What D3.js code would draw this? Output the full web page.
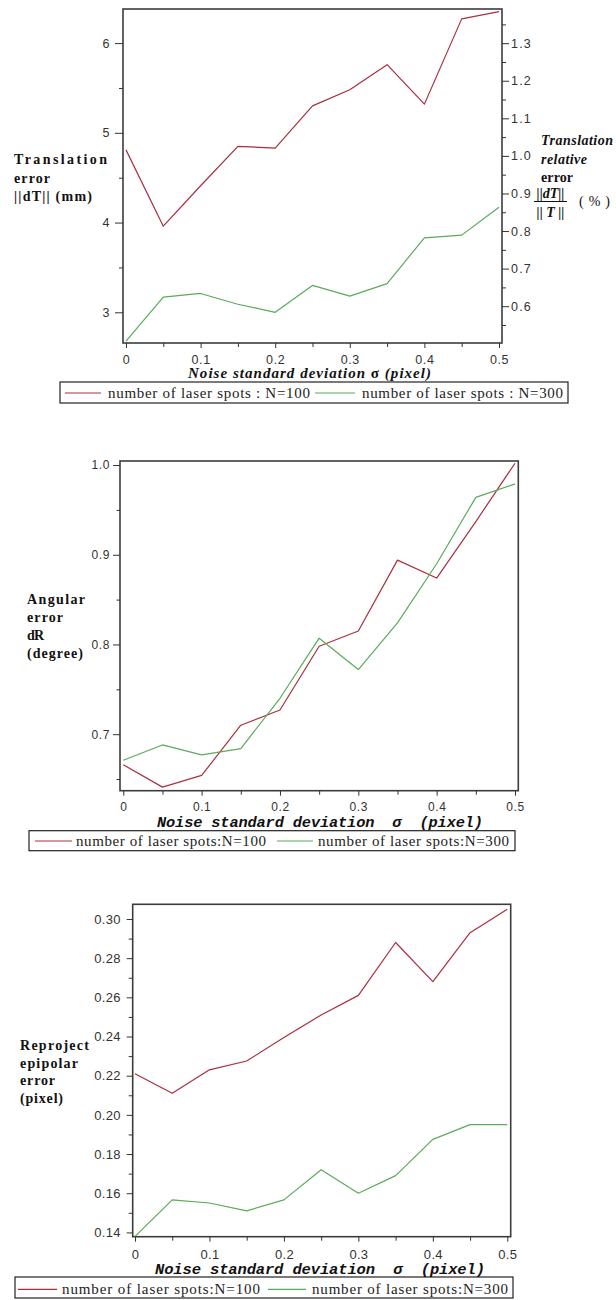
<!DOCTYPE html>
<html>
<head>
<meta charset="utf-8">
<script src="https://cdn.jsdelivr.net/npm/d3@7"></script>
<style>
  body { margin: 0; background: #fff; }
  #chart { width: 616px; height: 1300px; }
</style>
</head>
<body>
<div id="chart"></div>
<script>
// noise levels on the x axis
const sigmaValues = [0, 0.05, 0.1, 0.15, 0.2, 0.25, 0.3, 0.35, 0.4, 0.45, 0.5];
const sigmaTicks = [0, 0.1, 0.2, 0.3, 0.4, 0.5];
const sigmaMinorTicks = [0.05, 0.15, 0.25, 0.35, 0.45];

// translation error ||dT|| (mm)
const translationN100 = [4.81, 3.96, 4.41, 4.85, 4.83, 5.30, 5.48, 5.76, 5.32, 6.27, 6.35];
const translationN300 = [2.68, 3.17, 3.21, 3.09, 3.00, 3.30, 3.18, 3.32, 3.83, 3.86, 4.17];
const translationTicks = [3, 4, 5, 6];
const translationMinorTicks = [3.5, 4.5, 5.5];
const relativeTicks = [0.6, 0.7, 0.8, 0.9, 1.0, 1.1, 1.2, 1.3];
const relativeMinorTicks = [0.55, 0.65, 0.75, 0.85, 0.95, 1.05, 1.15, 1.25, 1.35];

// angular error dR (degree)
const angularN100 = [0.666, 0.641, 0.654, 0.710, 0.727, 0.798, 0.815, 0.894, 0.874, 0.937, 1.002];
const angularN300 = [0.671, 0.688, 0.677, 0.684, 0.740, 0.807, 0.772, 0.824, 0.890, 0.964, 0.979];
const angularTicks = [0.7, 0.8, 0.9, 1.0];
const angularMinorTicks = [0.65, 0.75, 0.85, 0.95];

// reprojected epipolar error (pixel)
const epipolarN100 = [0.221, 0.211, 0.223, 0.2275, 0.2395, 0.251, 0.261, 0.288, 0.268, 0.293, 0.305];
const epipolarN300 = [0.138, 0.1566, 0.155, 0.151, 0.1566, 0.172, 0.160, 0.169, 0.1875, 0.195, 0.195];
const epipolarTicks = [0.14, 0.16, 0.18, 0.20, 0.22, 0.24, 0.26, 0.28, 0.30];
const epipolarMinorTicks = [0.15, 0.17, 0.19, 0.21, 0.23, 0.25, 0.27, 0.29];

const legendLabelsSpaced = ['number of laser spots : N=100', 'number of laser spots : N=300'];
const legendLabels = ['number of laser spots:N=100', 'number of laser spots:N=300'];
const seriesColors = ['#a8303c', '#5aab5a'];

const SERIF = "'Liberation Serif', 'Times New Roman', serif";
const SANS = "'Liberation Sans', Arial, sans-serif";
const MONO = "'Liberation Mono', 'Courier New', monospace";

class ErrorPanel {
  constructor(svg, cfg) {
    this.cfg = cfg;
    this.g = svg.append('g').attr('class', 'panel');
    this.xScale = d3.scaleLinear().domain([0, 0.5]).range(cfg.xRange);
    this.yScale = d3
      .scaleLinear()
      .domain(cfg.yDomain)
      .range([cfg.frame.bottom, cfg.frame.top]);
    this.drawFrame();
    this.drawAxes();
    this.drawLines();
    this.drawLegend();
    this.drawTitles();
  }

  drawFrame() {
    const f = this.cfg.frame;
    this.g
      .append('rect')
      .attr('x', f.left)
      .attr('y', f.top)
      .attr('width', f.right - f.left)
      .attr('height', f.bottom - f.top)
      .attr('fill', 'none')
      .attr('stroke', '#3c3c3c')
      .attr('stroke-width', 1.6);
  }

  styleAxis(g, size, spacing) {
    g.select('.domain').remove();
    g.selectAll('line').attr('stroke', '#333');
    g.selectAll('text')
      .attr('font-family', SANS)
      .attr('font-size', size)
      .attr('letter-spacing', spacing)
      .attr('fill', '#333');
  }

  drawAxes() {
    const c = this.cfg;
    const f = c.frame;

    const gx = this.g.append('g').attr('transform', 'translate(0,' + f.bottom + ')');
    gx.call(
      d3.axisBottom(this.xScale)
        .tickValues(sigmaTicks)
        .tickFormat(d3.format('~g'))
        .tickSize(5)
        .tickPadding(c.xPad)
    );
    this.styleAxis(gx, c.tickFont, c.tickSpacing);
    const gxMinor = this.g.append('g').attr('transform', 'translate(0,' + f.bottom + ')');
    gxMinor.call(d3.axisBottom(this.xScale).tickValues(sigmaMinorTicks).tickFormat('').tickSize(4));
    this.styleAxis(gxMinor, c.tickFont, 0);

    const gy = this.g.append('g').attr('transform', 'translate(' + f.left + ',0)');
    gy.call(
      d3.axisLeft(this.yScale)
        .tickValues(c.yTicks)
        .tickFormat(d3.format(c.yFormat))
        .tickSize(c.yTickSize)
        .tickPadding(c.yPad)
    );
    this.styleAxis(gy, c.tickFont, c.tickSpacing);
    const gyMinor = this.g.append('g').attr('transform', 'translate(' + f.left + ',0)');
    gyMinor.call(d3.axisLeft(this.yScale).tickValues(c.yMinor).tickFormat('').tickSize(c.yMinorSize));
    this.styleAxis(gyMinor, c.tickFont, 0);

    if (c.right) {
      const r = c.right;
      this.rightScale = d3.scaleLinear().domain(r.domain).range([f.bottom, f.top]);
      const gr = this.g.append('g').attr('transform', 'translate(' + f.right + ',0)');
      gr.call(
        d3.axisRight(this.rightScale)
          .tickValues(r.ticks)
          .tickFormat(d3.format('.1f'))
          .tickSize(7)
          .tickPadding(2)
      );
      this.styleAxis(gr, c.tickFont, 1.2);
      const grMinor = this.g.append('g').attr('transform', 'translate(' + f.right + ',0)');
      grMinor.call(d3.axisRight(this.rightScale).tickValues(r.minor).tickFormat('').tickSize(4));
      this.styleAxis(grMinor, c.tickFont, 0);
    }
  }

  drawLines() {
    const line = d3
      .line()
      .x((d, i) => this.xScale(sigmaValues[i]))
      .y((d) => this.yScale(d));
    this.g
      .append('g')
      .selectAll('path')
      .data(this.cfg.series)
      .join('path')
      .attr('d', (d) => line(d))
      .attr('fill', 'none')
      .attr('stroke', (d, i) => seriesColors[i])
      .attr('stroke-width', 1.2)
      .attr('stroke-linejoin', 'round');
  }

  drawLegend() {
    const L = this.cfg.legend;
    const lg = this.g.append('g').attr('class', 'legend');
    lg.append('rect')
      .attr('x', L.x)
      .attr('y', L.y)
      .attr('width', L.w)
      .attr('height', L.h)
      .attr('fill', '#fff')
      .attr('stroke', '#222')
      .attr('stroke-width', 1.2);
    lg.selectAll('line')
      .data(L.items)
      .join('line')
      .attr('x1', (d) => d.x1)
      .attr('x2', (d) => d.x2)
      .attr('y1', L.lineY)
      .attr('y2', L.lineY)
      .attr('stroke', (d, i) => seriesColors[i])
      .attr('stroke-width', 1.2);
    lg.selectAll('text')
      .data(L.items)
      .join('text')
      .attr('x', (d) => d.tx)
      .attr('y', L.textY)
      .attr('font-family', SERIF)
      .attr('font-size', 15)
      .attr('fill', '#222')
      .attr('textLength', (d) => d.tw)
      .attr('lengthAdjust', 'spacing')
      .text((d, i) => L.labels[i]);
  }

  drawTitles() {
    const c = this.cfg;
    const t = c.xTitle;
    const xt = this.g
      .append('text')
      .attr('x', t.x)
      .attr('y', t.y)
      .attr('font-family', t.family)
      .attr('font-size', t.size)
      .attr('font-weight', 'bold')
      .attr('font-style', 'italic')
      .attr('fill', '#111')
      .style('white-space', 'pre')
      .attr('textLength', t.w)
      .attr('lengthAdjust', 'spacing');
    // split on sigma so that it can stay upright where the reference has it so
    const parts = t.text.split('\u03c3');
    xt.append('tspan').text(parts[0]);
    xt.append('tspan')
      .attr('font-style', t.uprightSigma ? 'normal' : 'italic')
      .text('\u03c3');
    xt.append('tspan').text(parts[1]);

    this.g
      .append('g')
      .selectAll('text')
      .data(c.yTitle.lines)
      .join('text')
      .attr('x', c.yTitle.x)
      .attr('y', (d) => d.y)
      .attr('font-family', SERIF)
      .attr('font-size', 14)
      .attr('font-weight', 'bold')
      .attr('fill', '#111')
      .attr('textLength', (d) => d.w)
      .attr('lengthAdjust', 'spacing')
      .text((d) => d.text);

    if (c.right) this.drawRightTitle();
  }

  drawRightTitle() {
    const rg = this.g.append('g').attr('class', 'rightTitle');
    const x = 541;
    const rows = [
      { text: 'Translation', y: 145, italic: true, w: 72 },
      { text: 'relative', y: 163.5, italic: true, w: 46 },
      { text: 'error', y: 182, italic: false, w: 32 },
    ];
    rg.selectAll('text.row')
      .data(rows)
      .join('text')
      .attr('class', 'row')
      .attr('x', x)
      .attr('y', (d) => d.y)
      .attr('font-family', SERIF)
      .attr('font-size', 14)
      .attr('font-weight', 'bold')
      .attr('font-style', (d) => (d.italic ? 'italic' : 'normal'))
      .attr('fill', '#111')
      .attr('textLength', (d) => d.w)
      .attr('lengthAdjust', 'spacing')
      .text((d) => d.text);

    rg.append('text')
      .attr('x', 550.5)
      .attr('y', 198)
      .attr('text-anchor', 'middle')
      .attr('font-family', SERIF)
      .attr('font-size', 14)
      .attr('font-weight', 'bold')
      .attr('font-style', 'italic')
      .attr('fill', '#111')
      .text('||dT||');
    rg.append('line')
      .attr('x1', 534)
      .attr('x2', 567)
      .attr('y1', 201.5)
      .attr('y2', 201.5)
      .attr('stroke', '#111')
      .attr('stroke-width', 1);
    rg.append('text')
      .attr('x', 550.5)
      .attr('y', 216.5)
      .attr('text-anchor', 'middle')
      .attr('font-family', SERIF)
      .attr('font-size', 14)
      .attr('font-weight', 'bold')
      .attr('font-style', 'italic')
      .attr('fill', '#111')
      .style('white-space', 'pre')
      .text('|| T ||');
    rg.append('text')
      .attr('x', 579)
      .attr('y', 206)
      .attr('font-family', SERIF)
      .attr('font-size', 14)
      .attr('fill', '#111')
      .attr('textLength', 31)
      .attr('lengthAdjust', 'spacing')
      .text('(%)');
  }
}

const svg = d3
  .select('#chart')
  .append('svg')
  .attr('width', 616)
  .attr('height', 1300);

const xTitleMono = 'Noise standard deviation  \u03c3  (pixel)';

new ErrorPanel(svg, {
  frame: { left: 123, right: 502, top: 9, bottom: 343 },
  xRange: [126, 499],
  yDomain: [2.658, 6.38],
  yTicks: translationTicks,
  yMinor: translationMinorTicks,
  yFormat: 'd',
  yTickSize: 8,
  yMinorSize: 4,
  yPad: 5,
  xPad: 7,
  tickFont: 12.5,
  tickSpacing: 0.6,
  series: [translationN100, translationN300],
  right: { domain: [0.502, 1.391], ticks: relativeTicks, minor: relativeMinorTicks },
  legend: {
    x: 60, y: 382, w: 508, h: 21, lineY: 393, textY: 398,
    labels: legendLabelsSpaced,
    items: [
      { x1: 65, x2: 101, tx: 108, tw: 202 },
      { x1: 315, x2: 355, tx: 362, tw: 201 },
    ],
  },
  xTitle: { text: 'Noise standard deviation \u03c3 (pixel)', x: 188, y: 378, family: SERIF, size: 15, w: 243, uprightSigma: true },
  yTitle: {
    x: 14,
    lines: [
      { text: 'Translation', y: 164, w: 93 },
      { text: 'error', y: 182.5, w: 36 },
      { text: '||dT|| (mm)', y: 201, w: 78 },
    ],
  },
});

new ErrorPanel(svg, {
  frame: { left: 120, right: 518.3, top: 461, bottom: 790.7 },
  xRange: [123.3, 515],
  yDomain: [0.637, 1.0045],
  yTicks: angularTicks,
  yMinor: angularMinorTicks,
  yFormat: '.1f',
  yTickSize: 7,
  yMinorSize: 3.5,
  yPad: 3,
  xPad: 7,
  tickFont: 12,
  tickSpacing: 0.6,
  series: [angularN100, angularN300],
  legend: {
    x: 29, y: 830.7, w: 486, h: 20, lineY: 841, textY: 846,
    labels: legendLabels,
    items: [
      { x1: 35, x2: 72, tx: 76, tw: 190 },
      { x1: 277, x2: 313, tx: 318, tw: 191 },
    ],
  },
  xTitle: { text: xTitleMono, x: 157, y: 827, family: MONO, size: 15.3, w: 326 },
  yTitle: {
    x: 27,
    lines: [
      { text: 'Angular', y: 604, w: 58 },
      { text: 'error', y: 622, w: 36 },
      { text: 'dR', y: 640, w: 17 },
      { text: '(degree)', y: 658, w: 56 },
    ],
  },
});

new ErrorPanel(svg, {
  frame: { left: 132.7, right: 510.7, top: 904.3, bottom: 1236.7 },
  xRange: [135, 507.3],
  yDomain: [0.1378, 0.3075],
  yTicks: epipolarTicks,
  yMinor: epipolarMinorTicks,
  yFormat: '.2f',
  yTickSize: 6,
  yMinorSize: 4,
  yPad: 6,
  xPad: 8,
  tickFont: 13,
  tickSpacing: 0.3,
  series: [epipolarN100, epipolarN300],
  legend: {
    x: 15, y: 1277, w: 498, h: 21, lineY: 1289.3, textY: 1294,
    labels: legendLabels,
    items: [
      { x1: 18, x2: 57, tx: 62, tw: 198 },
      { x1: 268, x2: 306, tx: 312, tw: 196 },
    ],
  },
  xTitle: { text: xTitleMono, x: 155, y: 1274, family: MONO, size: 15.5, w: 330 },
  yTitle: {
    x: 20,
    lines: [
      { text: 'Reproject', y: 1050, w: 69 },
      { text: 'epipolar', y: 1067.5, w: 58 },
      { text: 'error', y: 1085, w: 35 },
      { text: '(pixel)', y: 1102.5, w: 43 },
    ],
  },
});
</script>
</body>
</html>
